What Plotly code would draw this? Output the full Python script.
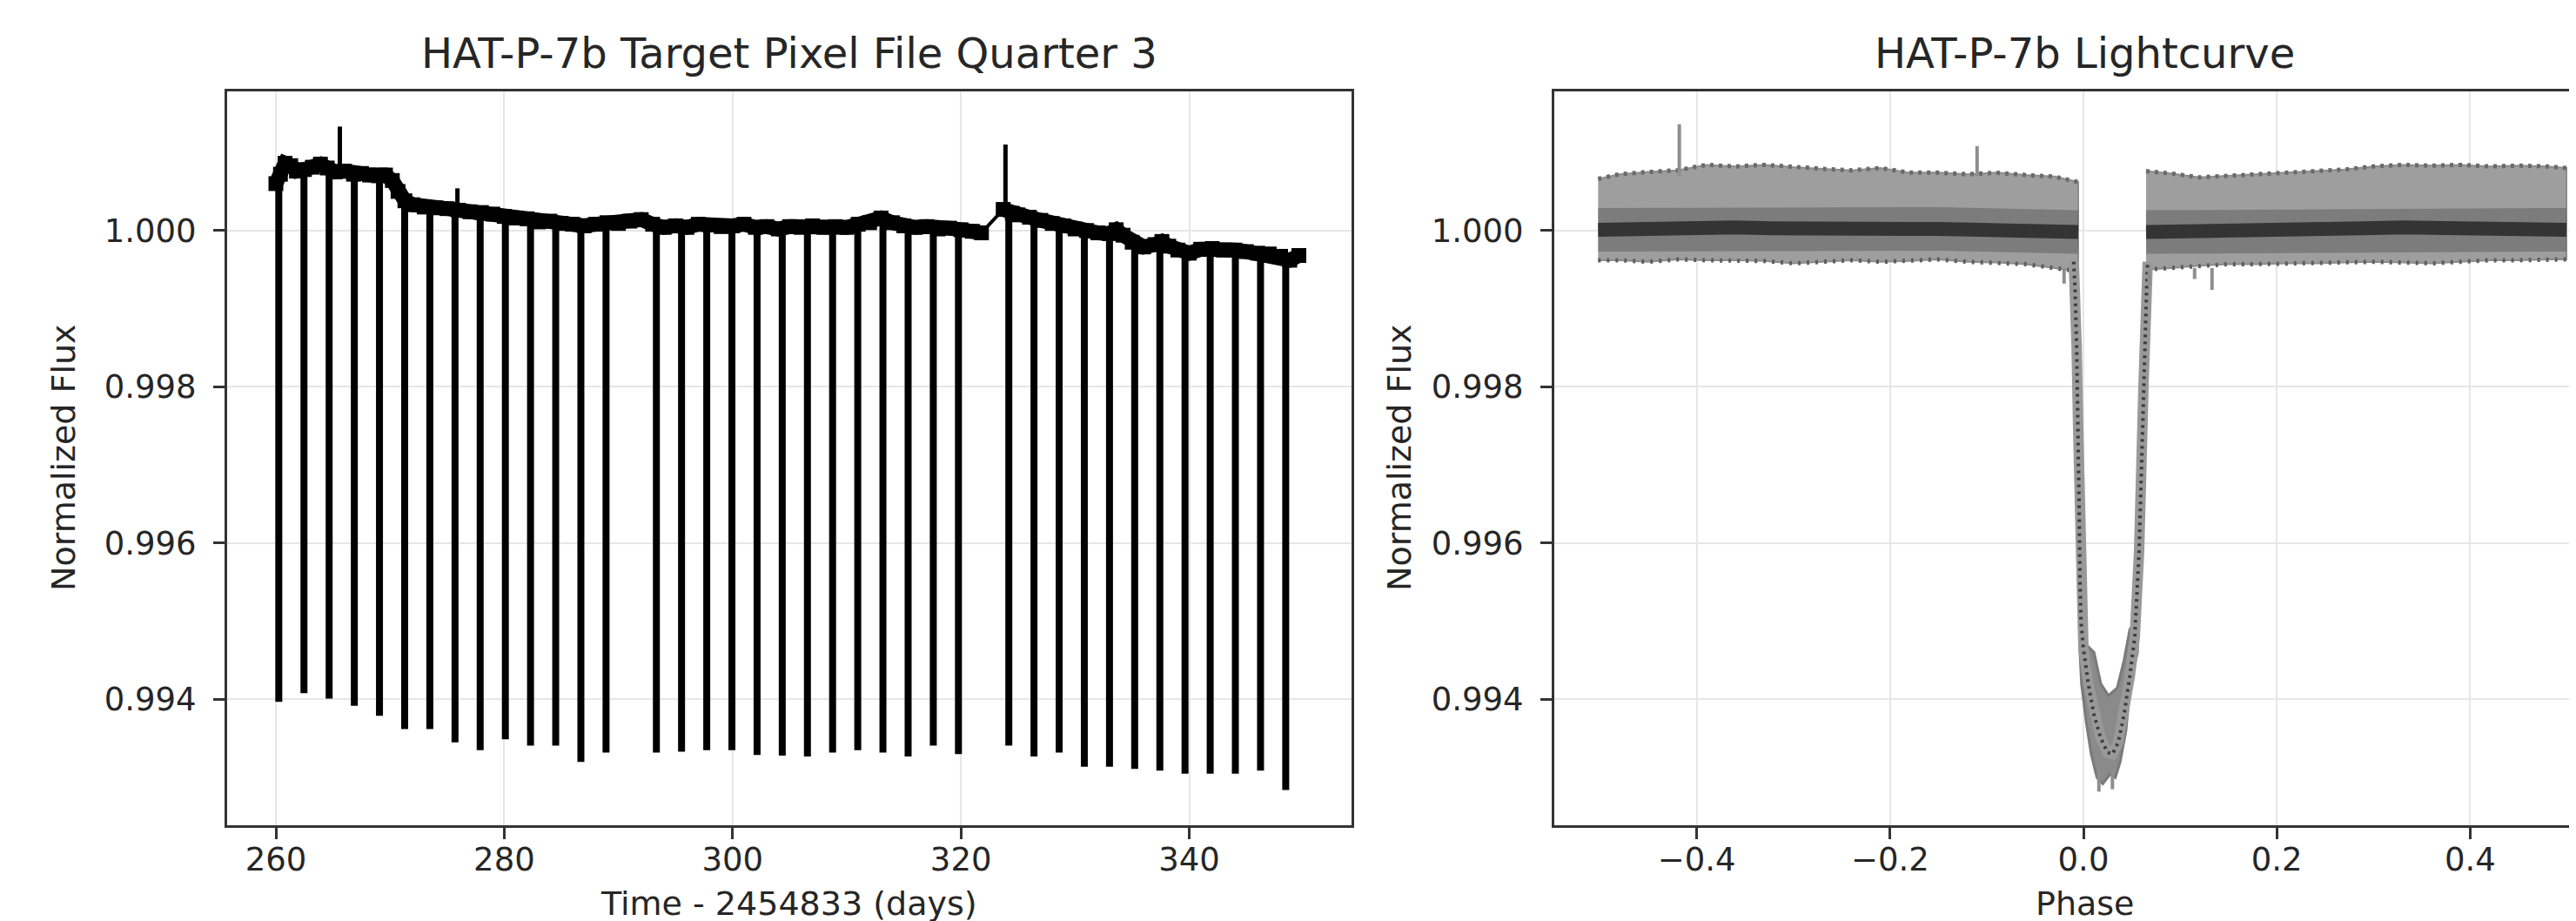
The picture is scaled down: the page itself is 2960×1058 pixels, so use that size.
import plotly.graph_objects as go

# ---------------- Left panel: Quarter 3 light curve ----------------
base_a_time = [260.0, 260.4, 260.8, 261.3, 261.8, 262.5, 263.2, 263.9, 264.5, 265.2, 266.0, 266.8,
               267.5, 268.2, 269.0, 269.6, 270.2, 270.7, 271.3, 272.0, 273.0, 274.0, 275.0, 276.0,
               277.0, 278.0, 279.0, 280.0, 281.0, 282.0, 283.0, 284.0, 285.0, 286.0, 287.0, 288.0,
               289.0, 290.0, 291.0, 292.0, 293.0, 294.0, 295.0, 296.0, 297.0, 298.0, 299.0, 300.0,
               301.0, 302.0, 303.0, 304.0, 305.0, 306.0, 307.0, 308.0, 309.0, 310.0, 311.0, 312.0,
               313.0, 314.0, 315.0, 316.0, 317.0, 318.0, 319.0, 320.0, 321.0, 321.8]
base_a_flux = [1.00060, 1.00072, 1.00086, 1.00083, 1.00076, 1.00078, 1.00081, 1.00085, 1.00080, 1.00075,
               1.00076, 1.00072, 1.00073, 1.00071, 1.00070, 1.00071, 1.00064, 1.00050, 1.00038, 1.00033,
               1.00030, 1.00029, 1.00028, 1.00026, 1.00024, 1.00023, 1.00021, 1.00018, 1.00016, 1.00015,
               1.00011, 1.00012, 1.00009, 1.00008, 1.00006, 1.00008, 1.00010, 1.00009, 1.00012, 1.00014,
               1.00008, 1.00004, 1.00006, 1.00004, 1.00008, 1.00007, 1.00005, 1.00006, 1.00008, 1.00004,
               1.00005, 1.00002, 1.00005, 1.00004, 1.00006, 1.00004, 1.00005, 1.00004, 1.00008, 1.00010,
               1.00016, 1.00010, 1.00006, 1.00004, 1.00005, 1.00002, 1.00003, 1.00001, 0.99999, 0.99997]
gap_time = [321.8, 323.7]
gap_flux = [0.99997, 1.00027]
base_b_time = [323.7, 324.5, 325.0, 326.0, 327.0, 328.0, 329.0, 330.0, 331.0, 332.0, 333.0, 333.6,
               334.2, 335.0, 336.0, 337.0, 337.6, 338.2, 339.0, 340.0, 341.0, 342.0, 343.0, 344.0,
               345.0, 346.0, 347.0, 348.0, 348.8, 349.6]
base_b_flux = [1.00027, 1.00022, 1.00020, 1.00017, 1.00013, 1.00009, 1.00006, 1.00002, 1.00000, 0.99997,
               0.99996, 1.00001, 0.99994, 0.99985, 0.99979, 0.99982, 0.99986, 0.99980, 0.99975, 0.99971,
               0.99976, 0.99977, 0.99975, 0.99975, 0.99973, 0.99971, 0.99970, 0.99967, 0.99962, 0.99968]

transit_time = [260.255, 262.460, 264.665, 266.870, 269.074, 271.279, 273.484, 275.689, 277.893,
                280.098, 282.303, 284.508, 286.712, 288.917, 293.326, 295.531, 297.736, 299.941,
                302.145, 304.350, 306.555, 308.760, 310.964, 313.169, 315.374, 317.579, 319.783,
                324.193, 326.398, 328.602, 330.807, 333.012, 335.217, 337.421, 339.626, 341.831,
                344.036, 346.240, 348.445]
transit_bottom = [0.99397, 0.99408, 0.99401, 0.99392, 0.99379, 0.99362, 0.99362, 0.99345, 0.99335,
                  0.99349, 0.99341, 0.99341, 0.99320, 0.99332, 0.99332, 0.99333, 0.99335, 0.99335,
                  0.99329, 0.99328, 0.99327, 0.99332, 0.99335, 0.99332, 0.99327, 0.99341, 0.99330,
                  0.99341, 0.99327, 0.99332, 0.99314, 0.99314, 0.99311, 0.99309, 0.99305, 0.99305,
                  0.99305, 0.99309, 0.99284]
transit_top = [1.00060, 1.00076, 1.00078, 1.00072, 1.00070, 1.00038, 1.00030, 1.00027, 1.00023,
               1.00018, 1.00015, 1.00012, 1.00008, 1.00009, 1.00008, 1.00006, 1.00008, 1.00006,
               1.00004, 1.00002, 1.00004, 1.00004, 1.00008, 1.00016, 1.00006, 1.00002, 1.00001,
               1.00022, 1.00017, 1.00009, 1.00001, 0.99996, 0.99983, 0.99984, 0.99972, 0.99976,
               0.99975, 0.99971, 0.99967]
spike_time = [265.6, 275.9, 323.9]
spike_base = [1.00075, 1.00030, 1.00026]
spike_peak = [1.00133, 1.00054, 1.00110]

# ---------------- Right panel: phase-folded light curve ----------------
oot_l_phase = [-0.502, -0.48, -0.45, -0.42, -0.39, -0.36, -0.33, -0.30, -0.27, -0.24, -0.21, -0.18,
               -0.15, -0.12, -0.09, -0.06, -0.03, -0.0054]
oot_l_top = [1.00066, 1.00072, 1.00075, 1.00077, 1.00084, 1.00082, 1.00084, 1.00081, 1.00079, 1.00077,
             1.00080, 1.00074, 1.00074, 1.00072, 1.00074, 1.00071, 1.00069, 1.00062]
oot_l_bottom = [0.99962, 0.99962, 0.99960, 0.99963, 0.99962, 0.99962, 0.99961, 0.99958, 0.99960, 0.99962,
                0.99960, 0.99961, 0.99963, 0.99960, 0.99959, 0.99957, 0.99952, 0.99948]
oot_l_core = [1.00001, 1.00002, 1.00003, 1.00002, 1.00004, 1.00004, 1.00003, 1.00002, 1.00003, 1.00004,
              1.00003, 1.00002, 1.00002, 1.00001, 1.00002, 1.00001, 1.00000, 0.99998]
oot_r_phase = [0.0648, 0.09, 0.12, 0.15, 0.18, 0.21, 0.24, 0.27, 0.30, 0.33, 0.36, 0.39, 0.42, 0.45,
               0.48, 0.4996]
oot_r_top = [1.00076, 1.00073, 1.00068, 1.00070, 1.00072, 1.00074, 1.00076, 1.00078, 1.00082, 1.00084,
             1.00083, 1.00084, 1.00082, 1.00083, 1.00082, 1.00080]
oot_r_bottom = [0.99950, 0.99952, 0.99955, 0.99957, 0.99957, 0.99958, 0.99958, 0.99959, 0.99960, 0.99959,
                0.99958, 0.99960, 0.99962, 0.99962, 0.99963, 0.99963]
oot_r_core = [0.99998, 0.99999, 1.00000, 1.00001, 1.00001, 1.00002, 1.00002, 1.00003, 1.00003, 1.00004,
              1.00003, 1.00003, 1.00002, 1.00002, 1.00001, 1.00001]
transit_phase = [-0.0100, -0.0085, -0.0070, -0.0055, -0.0045, -0.0035, -0.0025, 0.0000, 0.0050, 0.0110,
                 0.0180, 0.0250, 0.0300, 0.0360, 0.0420, 0.0480, 0.0531, 0.0576, 0.0621, 0.0655, 0.0665]
transit_flux = [0.99960, 0.99920, 0.99850, 0.99750, 0.99650, 0.99550, 0.99500, 0.99465, 0.99420, 0.99380,
                0.99350, 0.99332, 0.99330, 0.99345, 0.99380, 0.99430, 0.99480, 0.99590, 0.99800, 0.99930,
                0.99960]
blob_phase = [-0.0040, 0.0030, 0.0110, 0.0180, 0.0260, 0.0350, 0.0420, 0.0480, 0.0560, 0.0560, 0.0490,
              0.0440, 0.0380, 0.0330, 0.0280, 0.0200, 0.0140, 0.0080, 0.0030, -0.0020, -0.0040]
blob_flux = [0.99500, 0.99470, 0.99460, 0.99420, 0.99405, 0.99415, 0.99450, 0.99490, 0.99500, 0.99460,
             0.99424, 0.99360, 0.99320, 0.99300, 0.99305, 0.99292, 0.99300, 0.99330, 0.99370, 0.99420,
             0.99470]
pspike_phase = [-0.418, -0.110, -0.020, 0.068, 0.115, 0.133, 0.016, 0.030]
pspike_from = [1.00070, 1.00070, 0.99950, 0.99950, 0.99952, 0.99952, 0.99310, 0.99310]
pspike_to = [1.00136, 1.00108, 0.99932, 0.99930, 0.99938, 0.99924, 0.99282, 0.99285]

FONT = "DejaVu Sans"
TXT = "#262626"
FRAME = "#333333"
GRID = "#e6e6e6"


def segments(xs, y0s, y1s):
    sx, sy = [], []
    for x, a, b in zip(xs, y0s, y1s):
        sx += [x, x, None]
        sy += [a, b, None]
    return sx, sy


fig = go.Figure()

# left panel traces
for bt, bf in [(base_a_time, base_a_flux), (base_b_time, base_b_flux)]:
    fig.add_trace(go.Scatter(x=bt, y=bf, mode="lines",
                             line=dict(color="black", width=17), xaxis="x", yaxis="y", hoverinfo="skip"))
    fig.add_trace(go.Scatter(x=bt, y=bf, mode="markers",
                             marker=dict(color="black", size=17, symbol="square"),
                             xaxis="x", yaxis="y", hoverinfo="skip"))
fig.add_trace(go.Scatter(x=gap_time, y=gap_flux, mode="lines",
                         line=dict(color="black", width=4), xaxis="x", yaxis="y", hoverinfo="skip"))
tx, ty = segments(transit_time, transit_top, transit_bottom)
fig.add_trace(go.Scatter(x=tx, y=ty, mode="lines", line=dict(color="black", width=8),
                         xaxis="x", yaxis="y", hoverinfo="skip"))
sx, sy = segments(spike_time, spike_base, spike_peak)
fig.add_trace(go.Scatter(x=sx, y=sy, mode="lines", line=dict(color="black", width=5),
                         xaxis="x", yaxis="y", hoverinfo="skip"))

# right panel traces
for ph, top, bot, core in [(oot_l_phase, oot_l_top, oot_l_bottom, oot_l_core),
                           (oot_r_phase, oot_r_top, oot_r_bottom, oot_r_core)]:
    fig.add_trace(go.Scatter(x=ph + ph[::-1], y=top + bot[::-1], mode="lines", fill="toself",
                             fillcolor="#9e9e9e", line=dict(color="#8c8c8c", width=2),
                             xaxis="x2", yaxis="y2", hoverinfo="skip"))
    fig.add_trace(go.Scatter(x=ph, y=core, mode="lines",
                             line=dict(color="rgba(60,60,60,0.35)", width=50),
                             xaxis="x2", yaxis="y2", hoverinfo="skip"))
    fig.add_trace(go.Scatter(x=ph, y=core, mode="lines",
                             line=dict(color="rgba(40,40,40,0.85)", width=16),
                             xaxis="x2", yaxis="y2", hoverinfo="skip"))
    fig.add_trace(go.Scatter(x=ph, y=top, mode="lines",
                             line=dict(color="#6a6a6a", width=5, dash="4px,6px"),
                             xaxis="x2", yaxis="y2", hoverinfo="skip"))
    fig.add_trace(go.Scatter(x=ph, y=bot, mode="lines",
                             line=dict(color="#5e5e5e", width=5, dash="3px,7px"),
                             xaxis="x2", yaxis="y2", hoverinfo="skip"))

fig.add_trace(go.Scatter(x=blob_phase, y=blob_flux, mode="lines", fill="toself", fillcolor="#8a8a8a",
                         line=dict(color="#7a7a7a", width=3), xaxis="x2", yaxis="y2", hoverinfo="skip"))
fig.add_trace(go.Scatter(x=transit_phase, y=transit_flux, mode="lines",
                         line=dict(color="#999999", width=12), xaxis="x2", yaxis="y2", hoverinfo="skip"))
fig.add_trace(go.Scatter(x=transit_phase, y=transit_flux, mode="lines",
                         line=dict(color="#3c3c3c", width=4, dash="3px,5px"),
                         xaxis="x2", yaxis="y2", hoverinfo="skip"))
px_, py_ = segments(pspike_phase, pspike_from, pspike_to)
fig.add_trace(go.Scatter(x=px_, y=py_, mode="lines", line=dict(color="#8e8e8e", width=4),
                         xaxis="x2", yaxis="y2", hoverinfo="skip"))

ytick_vals = [0.994, 0.996, 0.998, 1.000]
ytick_text = ["0.994", "0.996", "0.998", "1.000"]
xl_vals = [260, 280, 300, 320, 340]
xl_text = ["260", "280", "300", "320", "340"]
xr_vals = [-0.4, -0.2, 0.0, 0.2, 0.4]
xr_text = ["\u22120.4", "\u22120.2", "0.0", "0.2", "0.4"]

common = dict(showline=True, linecolor=FRAME, linewidth=3, ticks="outside", ticklen=13, tickwidth=3,
              tickcolor=FRAME, showgrid=True, gridcolor=GRID, gridwidth=2, zeroline=False,
              tickfont=dict(family=FONT, size=37, color=TXT))
ydom = [0.11153, 0.90832]
yrng = [0.99239, 1.00178]

fig.update_layout(
    width=2960, height=1058, margin=dict(l=0, r=0, t=0, b=0),
    paper_bgcolor="white", plot_bgcolor="white", showlegend=False,
    xaxis=dict(domain=[0.08547, 0.52196], range=[255.73, 354.21], tickvals=xl_vals, ticktext=xl_text,
               mirror=True, anchor="y", ticklabelstandoff=-8, **common),
    yaxis=dict(domain=ydom, range=yrng, tickvals=ytick_vals, ticktext=ytick_text,
               mirror=True, anchor="x", ticklabelstandoff=12, **common),
    xaxis2=dict(domain=[0.60068, 1.0], range=[-0.5473, 0.5167], tickvals=xr_vals, ticktext=xr_text,
                mirror=True, anchor="y2", ticklabelstandoff=-8, **common),
    yaxis2=dict(domain=ydom, range=yrng, tickvals=ytick_vals, ticktext=ytick_text,
                mirror=False, anchor="x2", ticklabelstandoff=12, **common),
)

ann = [
    dict(text="HAT-P-7b Target Pixel File Quarter 3", x=899 / 2960, y=1 - 53 / 1058, size=48, angle=0),
    dict(text="HAT-P-7b Lightcurve", x=2387 / 2960, y=1 - 53 / 1058, size=48, angle=0),
    dict(text="Normalized Flux", x=65 / 2960, y=1 - 518 / 1058, size=38, angle=-90),
    dict(text="Normalized Flux", x=1600 / 2960, y=1 - 518 / 1058, size=38, angle=-90),
    dict(text="Time - 2454833 (days)", x=899 / 2960, y=1 - 1030 / 1058, size=38, angle=0),
    dict(text="Phase", x=2387 / 2960, y=1 - 1030 / 1058, size=38, angle=0),
]
for a in ann:
    fig.add_annotation(text=a["text"], x=a["x"], y=a["y"], xref="paper", yref="paper",
                       xanchor="center", yanchor="middle", showarrow=False, textangle=a["angle"],
                       font=dict(family=FONT, size=a["size"], color=TXT))

fig.write_html("out.html")
